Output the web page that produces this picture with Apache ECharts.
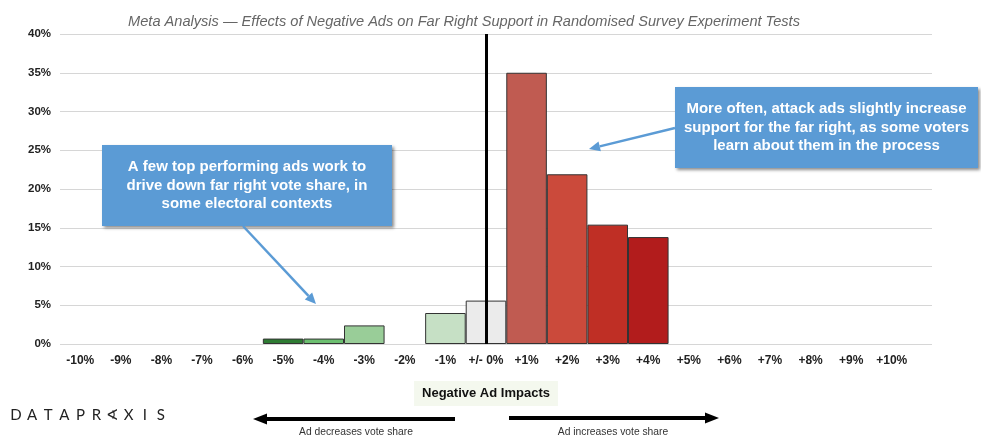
<!DOCTYPE html>
<html>
<head>
<meta charset="utf-8">
<script src="https://cdn.jsdelivr.net/npm/echarts@6/dist/echarts.min.js"></script>
<style>
  html, body { margin: 0; padding: 0; background: #fff; }
  #chart { width: 981px; height: 436px; }
</style>
</head>
<body>
<div id="chart"></div>
<script>
// Share of tests (%) by measured effect of a negative ad on far-right support
const categories = ['-10%', '-9%', '-8%', '-7%', '-6%', '-5%', '-4%', '-3%', '-2%', '-1%', '+/- 0%',
  '+1%', '+2%', '+3%', '+4%', '+5%', '+6%', '+7%', '+8%', '+9%', '+10%'];
const shareOfTests = [null, null, null, null, null, 0.7, 0.7, 2.4, null, 4.0, 5.6,
  35.0, 21.9, 15.4, 13.8, null, null, null, null, null, null];
const yTicks = [0, 5, 10, 15, 20, 25, 30, 35, 40];

// Fill per bucket: greens for decreases, grey at zero, reds for increases
const barColors = [null, null, null, null, null, '#2e7b33', '#6cbf70', '#99cd98', null, '#c6e0c5', '#ebebeb',
  '#c05b51', '#cb4a3b', '#bf2f25', '#b21c1c'];

const FONT = '"Liberation Sans", Arial, Helvetica, sans-serif';
const BLUE = '#5b9bd5';
const TOP = 100;

const chart = echarts.init(document.getElementById('chart'), null, { renderer: 'canvas' });

const grid = { top: 34, bottom: 92, left: 60 };

// spaced-out wordmark, one glyph per slot
const logo = 'DATAPR∢XIS'.split('').map((ch, i) => ({
  type: 'text', z: TOP, x: 16 + i * 16.1, y: 415,
  style: { text: ch, font: '15px Lato, "Open Sans", sans-serif', fill: '#222', align: 'center', verticalAlign: 'middle' }
}));

function arrow(x1, y1, x2, y2, color, width, headLen, headHalf) {
  const ang = Math.atan2(y2 - y1, x2 - x1);
  const bx = x2 - Math.cos(ang) * headLen, by = y2 - Math.sin(ang) * headLen;
  const nx = -Math.sin(ang) * headHalf, ny = Math.cos(ang) * headHalf;
  return [
    { type: 'line', z: TOP, shape: { x1, y1, x2: bx, y2: by }, style: { stroke: color, lineWidth: width } },
    { type: 'polygon', z: TOP, shape: { points: [[x2, y2], [bx + nx, by + ny], [bx - nx, by - ny]] }, style: { fill: color } }
  ];
}

function callout(x, y, w, h, lines) {
  return [
    { type: 'rect', z: TOP, shape: { x, y, width: w, height: h },
      style: { fill: BLUE, shadowBlur: 3, shadowOffsetX: 2, shadowOffsetY: 2, shadowColor: 'rgba(0,0,0,0.45)' } },
    { type: 'text', z: TOP + 1, x: x + w / 2, y: y + h / 2,
      style: { text: lines.join('\n'), fill: '#fff', font: 'bold 15px ' + FONT,
        align: 'center', verticalAlign: 'middle', lineHeight: 18.5 } }
  ];
}

const option = {
  animation: false,
  backgroundColor: '#fff',
  title: {
    text: 'Meta Analysis — Effects of Negative Ads on Far Right Support in Randomised Survey Experiment Tests',
    left: 459, top: 9, textAlign: 'center',
    textStyle: { fontFamily: FONT, fontStyle: 'italic', fontWeight: 'normal', fontSize: 14.6, color: '#666' }
  },
  grid: [
    Object.assign({ right: 49 }, grid),
    Object.assign({ right: 69 }, grid)
  ],
  xAxis: [
    { gridIndex: 0, type: 'value', show: false, min: 0, max: 1 },
    {
      gridIndex: 1, type: 'category', data: categories,
      axisLine: { show: false }, axisTick: { show: false },
      axisLabel: { margin: 11, fontFamily: FONT, fontWeight: 'bold', fontSize: 12, color: '#222', interval: 0 },
      name: 'Negative Ad Impacts', nameLocation: 'middle', nameGap: 37,
      nameTextStyle: { fontFamily: FONT, fontWeight: 'bold', fontSize: 13, color: '#111',
        backgroundColor: '#f4f8ee', padding: [6, 8, 6, 8] }
    }
  ],
  yAxis: [
    {
      gridIndex: 0, type: 'value', min: yTicks[0], max: yTicks[yTicks.length - 1], interval: 5,
      axisLine: { show: false }, axisTick: { show: false },
      axisLabel: { margin: 9, formatter: '{value}%', fontFamily: FONT, fontWeight: 'bold', fontSize: 11.5, color: '#222' },
      splitLine: { lineStyle: { color: '#d6d6d6', width: 1 } }
    },
    { gridIndex: 1, type: 'value', min: yTicks[0], max: yTicks[yTicks.length - 1], interval: 5, show: false }
  ],
  series: [{
    type: 'bar', xAxisIndex: 1, yAxisIndex: 1,
    barWidth: '100%', barCategoryGap: 0,
    data: shareOfTests.map((v, i) => v == null ? '-' : {
      value: v, itemStyle: { color: barColors[i], borderColor: '#333', borderWidth: 1 }
    }),
    markLine: {
      silent: true, symbol: ['none', 'none'], label: { show: false },
      lineStyle: { color: '#000', width: 3, type: 'solid' },
      data: [{ xAxis: '+/- 0%' }]
    }
  }],
  graphic: [].concat(
    callout(102, 145, 290, 81, ['A few top performing ads work to', 'drive down far right vote share, in', 'some electoral contexts']),
    arrow(243, 226, 316, 304, BLUE, 2.5, 11, 5),
    callout(675, 87, 303, 81, ['More often, attack ads slightly increase', 'support for the far right, as some voters', 'learn about them in the process']),
    arrow(675, 128, 589, 149, BLUE, 2.5, 11, 5),
    arrow(455, 419, 253, 419, '#000', 4, 14, 5.5),
    arrow(509, 418, 719, 418, '#000', 4, 14, 5.5),
    [
      { type: 'text', z: TOP, x: 356, y: 432, style: { text: 'Ad decreases vote share', font: '10.3px ' + FONT, fill: '#333', align: 'center', verticalAlign: 'middle' } },
      { type: 'text', z: TOP, x: 613, y: 432, style: { text: 'Ad increases vote share', font: '10.3px ' + FONT, fill: '#333', align: 'center', verticalAlign: 'middle' } }
    ],
    logo
  )
};

chart.setOption(option);
</script>
</body>
</html>
